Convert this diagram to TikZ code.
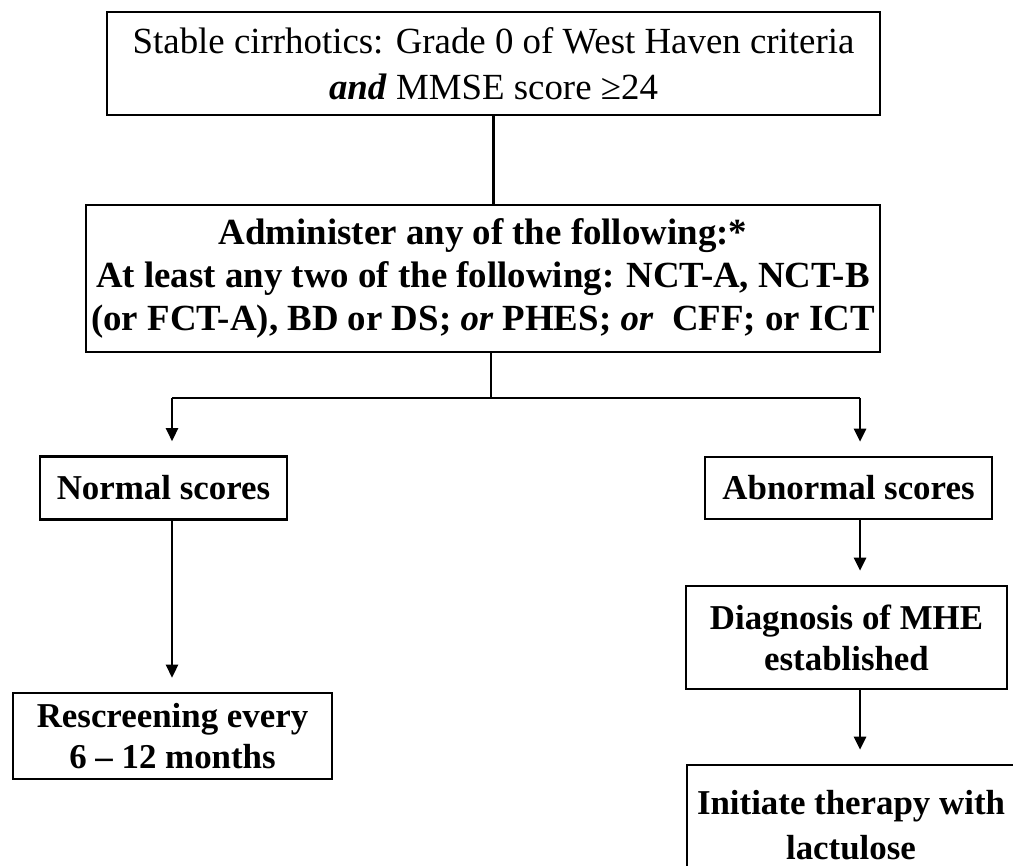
\documentclass[tikz,border=0pt]{standalone}
\usepackage{fontspec}
\setmainfont{Liberation Serif}
\usetikzlibrary{arrows.meta}

\begin{document}
\begin{tikzpicture}[x=1bp,y=-1bp,line width=2.6bp,>={Triangle[length=13bp,width=12bp]},
  caja/.style={draw,align=center,inner sep=0pt,font=\fontsize{35}{41}\selectfont\bfseries},
  flecha/.style={->,shorten >=14bp}]
  \useasboundingbox (0,0) rectangle (1013,866);
  \clip (0,0) rectangle (1013,866);
  % cribado inicial y pruebas
  \node[caja,minimum width=773bp,minimum height=103bp,font=\fontsize{37}{46}\selectfont] (cribado) at (493.5,63.5)
    {Stable cirrhotics: Grade 0 of West Haven criteria\\\textbf{\textit{and}} MMSE score ≥24};
  \node[caja,minimum width=794bp,minimum height=147bp,font=\fontsize{37}{43}\selectfont\bfseries] (pruebas) at (483,278.5)
    {Administer any of the following:*\\At least any two of the following: NCT-A, NCT-B\\(or FCT-A), BD or DS; \textit{or} PHES; \textit{or}\ \ CFF; or ICT};
  % rama izquierda: normal
  \node[caja,minimum width=247bp,minimum height=63bp] (normal) at (163.5,488) {Normal scores};
  \node[caja,minimum width=319bp,minimum height=86bp] (reevaluar) at (172.5,736) {Rescreening every\\6 -- 12 months};
  % rama derecha: anormal
  \node[caja,minimum width=287bp,minimum height=62bp] (anormal) at (848.5,488) {Abnormal scores};
  \node[caja,minimum width=321bp,minimum height=103bp] (diagnostico) at (846.5,637.5) {Diagnosis of MHE\\established};
  \node[caja,minimum width=328bp,minimum height=120bp,font=\fontsize{35}{45}\selectfont\bfseries] (terapia) at (851,825) {Initiate therapy with\\lactulose};
  % conectores
  \coordinate (rama) at (491,398); \coordinate (izq) at (172,398); \coordinate (der) at (860,398);
  \draw (cribado.south) -- (cribado.south |- pruebas.north);
  \draw (pruebas.south -| rama) -- (rama);
  \draw (izq) -- (der);
  \draw[flecha] (izq) -- (izq |- normal.north);
  \draw[flecha] (der) -- (der |- anormal.north);
  \draw[flecha] (normal.south -| izq) -- (izq |- reevaluar.north);
  \draw[flecha] (anormal.south -| der) -- (der |- diagnostico.north);
  \draw[flecha] (diagnostico.south -| der) -- (der |- terapia.north);
\end{tikzpicture}
\end{document}
